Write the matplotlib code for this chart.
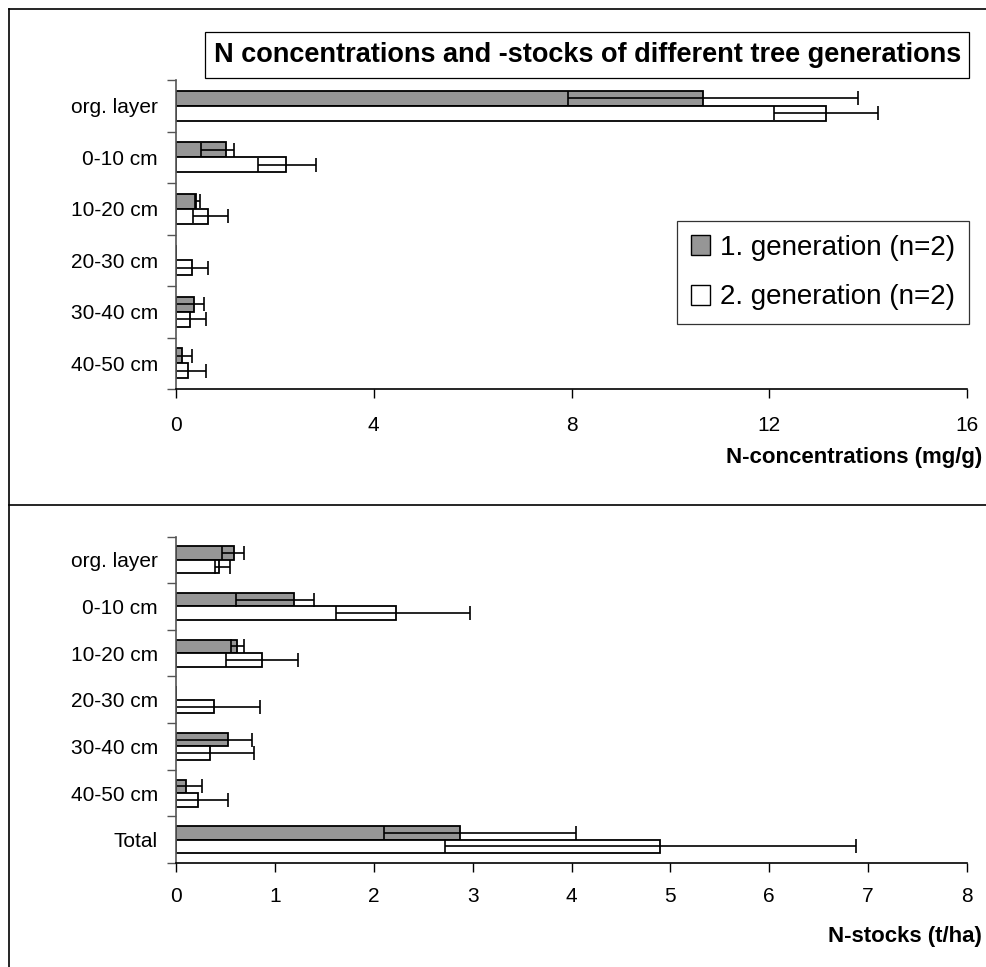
import numpy as np
import matplotlib.pyplot as plt
from matplotlib.lines import Line2D
from matplotlib.patches import Patch, Rectangle

plt.rcParams['font.family'] = ['Liberation Sans', 'DejaVu Sans']

# N concentrations (mg/g), soil layers
layers = ['org. layer', '0-10 cm', '10-20 cm', '20-30 cm', '30-40 cm', '40-50 cm']
gen1_conc = [10.67, 1.01, 0.40, 0.0, 0.36, 0.12]
gen1_conc_lo = [2.75, 0.50, 0.02, 0.0, 0.36, 0.12]
gen1_conc_hi = [3.12, 0.16, 0.09, 0.0, 0.20, 0.20]
gen2_conc = [13.14, 2.22, 0.65, 0.32, 0.28, 0.24]
gen2_conc_lo = [1.05, 0.57, 0.30, 0.32, 0.28, 0.24]
gen2_conc_hi = [1.05, 0.61, 0.40, 0.33, 0.33, 0.37]

# N stocks (t/ha), soil layers plus total
stock_layers = layers + ['Total']
gen1_stock = [0.59, 1.19, 0.62, 0.0, 0.53, 0.10, 2.87]
gen1_stock_lo = [0.12, 0.58, 0.06, 0.0, 0.53, 0.10, 0.77]
gen1_stock_hi = [0.10, 0.21, 0.07, 0.0, 0.24, 0.16, 1.18]
gen2_stock = [0.43, 2.23, 0.87, 0.38, 0.34, 0.22, 4.90]
gen2_stock_lo = [0.04, 0.61, 0.36, 0.38, 0.34, 0.22, 2.18]
gen2_stock_hi = [0.12, 0.74, 0.36, 0.47, 0.45, 0.31, 1.98]

series_names = ['1. generation (n=2)', '2. generation (n=2)']
title = 'N concentrations and -stocks of different tree generations'
GRAY = '#969696'
BAR_H = 0.29
W, H = 986, 967


def fx(px):
    return px / W


def fy(py):
    return 1 - py / H


def draw_panel(ax, cats, v1, lo1, hi1, v2, lo2, hi2, xmax, xstep, xlabel,
               xpad, label_off):
    n = len(cats)
    y = np.arange(n)
    err_kw = dict(ecolor='black', elinewidth=1.2, capsize=4.7, capthick=1.2)
    ax.barh(y - BAR_H / 2, v1, height=BAR_H, color=GRAY, edgecolor='black',
            linewidth=1.3, xerr=[lo1, hi1], error_kw=err_kw, zorder=2)
    ax.barh(y + BAR_H / 2, v2, height=BAR_H, color='white', edgecolor='black',
            linewidth=1.3, xerr=[lo2, hi2], error_kw=err_kw, zorder=2)
    ax.set_ylim(n - 0.5, -0.5)
    ax.set_xlim(0, xmax)
    ax.set_xticks(np.arange(0, xmax + 0.01, xstep))
    # category ticks sit between the groups, labels at the centres
    ax.set_yticks(np.arange(n + 1) - 0.5)
    ax.set_yticklabels([])
    ax.set_yticks(y, minor=True)
    ax.set_yticklabels(cats, minor=True)
    ax.tick_params(axis='y', which='major', direction='out', length=6.5,
                   width=1, color='#555555')
    ax.tick_params(axis='y', which='minor', length=0, pad=13, labelsize=15)
    ax.tick_params(axis='x', direction='out', length=6.5, width=1,
                   labelsize=15, pad=xpad)
    for s in ('top', 'right'):
        ax.spines[s].set_visible(False)
    ax.spines['left'].set_color('#555555')
    ax.spines['left'].set_linewidth(1.2)
    ax.spines['bottom'].set_linewidth(1.2)
    ax.annotate(xlabel, xy=(1, 0), xycoords='axes fraction',
                xytext=(11, label_off), textcoords='offset points',
                ha='right', va='center', fontsize=16, fontweight='bold')


fig = plt.figure(figsize=(W / 100, H / 100), dpi=100)

ax1 = fig.add_axes([fx(176), fy(389), fx(967) - fx(176), fy(80) - fy(389)])
draw_panel(ax1, layers, gen1_conc, gen1_conc_lo, gen1_conc_hi,
           gen2_conc, gen2_conc_lo, gen2_conc_hi, 16, 4,
           'N-concentrations (mg/g)', 13, -49)

ax2 = fig.add_axes([fx(176), fy(863), fx(967) - fx(176), fy(536.5) - fy(863)])
draw_panel(ax2, stock_layers, gen1_stock, gen1_stock_lo, gen1_stock_hi,
           gen2_stock, gen2_stock_lo, gen2_stock_hi, 8, 1,
           'N-stocks (t/ha)', 11, -53)

# title box
fig.add_artist(Rectangle((fx(205), fy(78)), fx(969) - fx(205), fy(32) - fy(78),
                         transform=fig.transFigure, facecolor='white',
                         edgecolor='black', linewidth=0.9))
fig.text(fx(588), fy(55), title, ha='center', va='center',
         fontsize=19.5, fontweight='bold')

# legend
handles = [Patch(facecolor=GRAY, edgecolor='black', linewidth=1.0),
           Patch(facecolor='white', edgecolor='black', linewidth=1.0)]
leg = ax1.legend(handles, series_names, loc='upper left',
                 bbox_to_anchor=(fx(677), fy(221)),
                 bbox_transform=fig.transFigure, fontsize=20,
                 frameon=True, fancybox=False, edgecolor='black',
                 handlelength=0.7, handleheight=0.7, handletextpad=0.35,
                 labelspacing=0.85, borderpad=0.5, borderaxespad=0)
leg.get_frame().set_linewidth(0.9)

# outer frame and panel divider
fig.add_artist(Line2D([fx(9), fx(9)], [0, fy(9)], color='black', lw=1.2))
fig.add_artist(Line2D([fx(9), 1], [fy(9), fy(9)], color='black', lw=1.2))
fig.add_artist(Line2D([fx(9), 1], [fy(505), fy(505)], color='black', lw=1.2))

fig.savefig('out.png', dpi=100)
